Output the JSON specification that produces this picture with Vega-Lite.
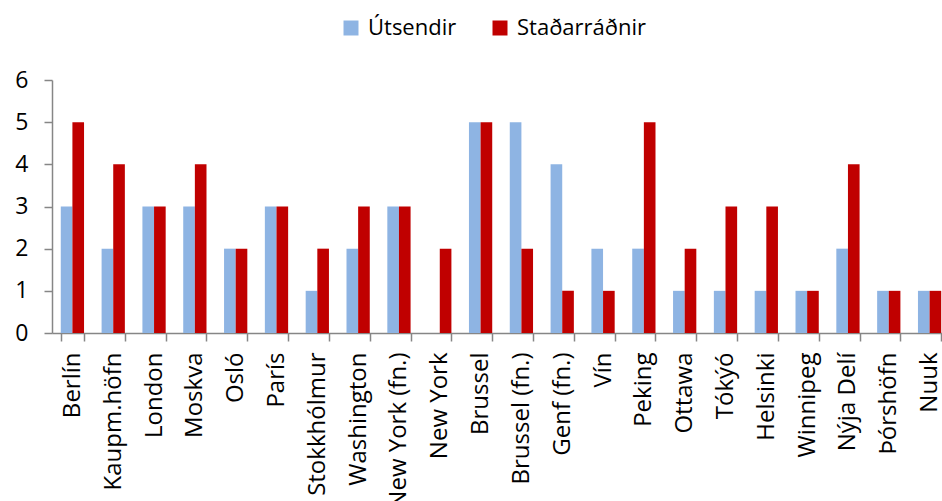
{
  "$schema": "https://vega.github.io/schema/vega-lite/v6.json",
  "width": 890,
  "height": 253,
  "autosize": {"type": "none"},
  "padding": {"left": 52, "top": 80, "right": 0, "bottom": 168},
  "background": "white",
  "config": {"view": {"stroke": null}, "font": "Open Sans"},
  "data": {"values": [
    {"city": "Berlín", "series": "Útsendir", "value": 3}, {"city": "Berlín", "series": "Staðarráðnir", "value": 5},
    {"city": "Kaupm.höfn", "series": "Útsendir", "value": 2}, {"city": "Kaupm.höfn", "series": "Staðarráðnir", "value": 4},
    {"city": "London", "series": "Útsendir", "value": 3}, {"city": "London", "series": "Staðarráðnir", "value": 3},
    {"city": "Moskva", "series": "Útsendir", "value": 3}, {"city": "Moskva", "series": "Staðarráðnir", "value": 4},
    {"city": "Osló", "series": "Útsendir", "value": 2}, {"city": "Osló", "series": "Staðarráðnir", "value": 2},
    {"city": "París", "series": "Útsendir", "value": 3}, {"city": "París", "series": "Staðarráðnir", "value": 3},
    {"city": "Stokkhólmur", "series": "Útsendir", "value": 1}, {"city": "Stokkhólmur", "series": "Staðarráðnir", "value": 2},
    {"city": "Washington", "series": "Útsendir", "value": 2}, {"city": "Washington", "series": "Staðarráðnir", "value": 3},
    {"city": "New York (fn.)", "series": "Útsendir", "value": 3}, {"city": "New York (fn.)", "series": "Staðarráðnir", "value": 3},
    {"city": "New York", "series": "Útsendir", "value": 0}, {"city": "New York", "series": "Staðarráðnir", "value": 2},
    {"city": "Brussel", "series": "Útsendir", "value": 5}, {"city": "Brussel", "series": "Staðarráðnir", "value": 5},
    {"city": "Brussel (fn.)", "series": "Útsendir", "value": 5}, {"city": "Brussel (fn.)", "series": "Staðarráðnir", "value": 2},
    {"city": "Genf (fn.)", "series": "Útsendir", "value": 4}, {"city": "Genf (fn.)", "series": "Staðarráðnir", "value": 1},
    {"city": "Vín", "series": "Útsendir", "value": 2}, {"city": "Vín", "series": "Staðarráðnir", "value": 1},
    {"city": "Peking", "series": "Útsendir", "value": 2}, {"city": "Peking", "series": "Staðarráðnir", "value": 5},
    {"city": "Ottawa", "series": "Útsendir", "value": 1}, {"city": "Ottawa", "series": "Staðarráðnir", "value": 2},
    {"city": "Tókýó", "series": "Útsendir", "value": 1}, {"city": "Tókýó", "series": "Staðarráðnir", "value": 3},
    {"city": "Helsinki", "series": "Útsendir", "value": 1}, {"city": "Helsinki", "series": "Staðarráðnir", "value": 3},
    {"city": "Winnipeg", "series": "Útsendir", "value": 1}, {"city": "Winnipeg", "series": "Staðarráðnir", "value": 1},
    {"city": "Nýja Delí", "series": "Útsendir", "value": 2}, {"city": "Nýja Delí", "series": "Staðarráðnir", "value": 4},
    {"city": "Þórshöfn", "series": "Útsendir", "value": 1}, {"city": "Þórshöfn", "series": "Staðarráðnir", "value": 1},
    {"city": "Nuuk", "series": "Útsendir", "value": 1}, {"city": "Nuuk", "series": "Staðarráðnir", "value": 1}
  ]},
  "mark": {"type": "bar"},
  "encoding": {
    "x": {
      "field": "city", "type": "nominal", "sort": null,
      "scale": {"range": [0, 898], "paddingInner": 0.43, "paddingOuter": 0.215},
      "axis": {
        "title": null, "labelAngle": -90, "labelAlign": "right", "labelBaseline": "middle",
        "labelFontSize": 24, "labelColor": "black", "labelPadding": 11, "tickSize": 8,
        "tickBand": "extent", "domainColor": "#868686", "tickColor": "#868686",
        "domainWidth": 1.5, "tickWidth": 1.5, "labelOverlap": false, "labelLimit": 0
      }
    },
    "xOffset": {"field": "series", "type": "nominal", "sort": ["Útsendir", "Staðarráðnir"]},
    "y": {
      "field": "value", "type": "quantitative",
      "scale": {"domain": [0, 6], "nice": false},
      "axis": {
        "title": null, "values": [0, 1, 2, 3, 4, 5, 6], "grid": false,
        "labelFontSize": 23, "labelColor": "black", "labelPadding": 16, "tickSize": 8,
        "domainColor": "#868686", "tickColor": "#868686", "domainWidth": 1.5, "tickWidth": 1.5
      }
    },
    "color": {
      "field": "series", "type": "nominal",
      "scale": {"domain": ["Útsendir", "Staðarráðnir"], "range": ["#8EB4E3", "#C00000"]},
      "legend": {
        "title": null, "orient": "none", "legendX": 288, "legendY": -63, "direction": "horizontal",
        "symbolType": "square", "symbolSize": 225, "symbolStrokeWidth": 0, "labelFontSize": 22,
        "labelColor": "black", "columnPadding": 32, "padding": 0, "labelOffset": 6
      }
    }
  }
}
